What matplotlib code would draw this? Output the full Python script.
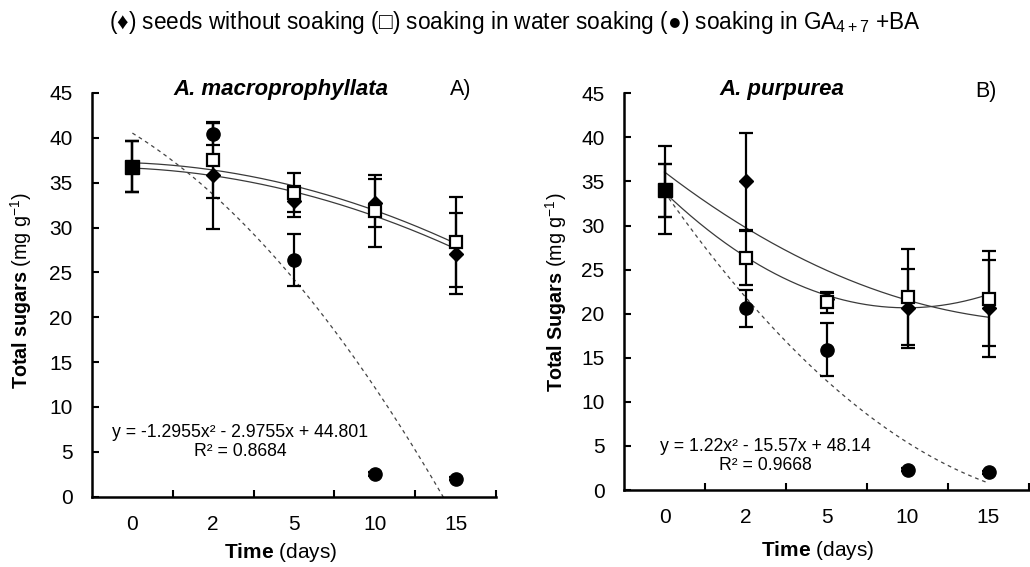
import numpy as np
import matplotlib
matplotlib.use("Agg")
import matplotlib.pyplot as plt

plt.rcParams['font.family'] = ['Liberation Sans', 'DejaVu Sans']
plt.rcParams['mathtext.fontset'] = 'custom'
plt.rcParams['mathtext.rm'] = 'Liberation Sans'
plt.rcParams['mathtext.bf'] = 'Liberation Sans:bold'
plt.rcParams['mathtext.it'] = 'Liberation Sans:italic'

# ---------------- data ----------------
day_labels = ['0', '2', '5', '10', '15']

# A. macroprophyllata
a_nosoak = [36.8, 35.8, 32.9, 32.7, 27.1]
a_nosoak_err = [2.8, 6.0, 1.7, 2.7, 4.5]
a_water = [36.8, 37.5, 33.9, 31.8, 28.4]
a_water_err = [2.8, 4.2, 2.2, 4.0, 5.0]
a_ga = [36.8, 40.4, 26.4, 2.5, 2.0]
a_ga_err = [2.8, 1.2, 2.9, 0.2, 0.2]
a_ga_coef = [-1.2955, -2.9755, 44.801]
a_eq = "y = -1.2955x\u00b2 - 2.9755x + 44.801\nR\u00b2 = 0.8684"

# A. purpurea
b_nosoak = [34.0, 35.0, 21.7, 20.6, 20.6]
b_nosoak_err = [5.0, 5.5, 0.6, 4.5, 5.5]
b_water = [34.0, 26.3, 21.3, 21.9, 21.7]
b_water_err = [3.0, 3.1, 1.2, 5.4, 5.4]
b_ga = [34.0, 20.6, 15.9, 2.3, 2.0]
b_ga_err = [3.0, 2.1, 3.0, 0.2, 0.2]
b_ga_coef = [1.22, -15.57, 48.14]
b_eq = "y = 1.22x\u00b2 - 15.57x + 48.14\nR\u00b2 = 0.9668"

W, H = 1030, 567
fig = plt.figure(figsize=(W / 100, H / 100), dpi=100)

def px(x0, y0, x1, y1):
    return [x0 / W, 1 - y1 / H, (x1 - x0) / W, (y1 - y0) / H]

axA = fig.add_axes(px(92, 93, 496, 496.5))
axB = fig.add_axes(px(624, 93.3, 1029, 490))

TREND_C = '#3a3a3a'
TICK_FS = 15

def draw(ax, nos, nos_e, wat, wat_e, ga, ga_e, ga_coef):
    x = np.arange(1, len(day_labels) + 1)
    xs = np.linspace(1, len(day_labels), 300)
    # polynomial trendlines for the two solid series
    for vals in (nos, wat):
        c = np.polyfit(x, vals, 2)
        ax.plot(xs, np.polyval(c, xs), color=TREND_C, lw=0.9, zorder=2)
    # dashed trend for GA series (given equation)
    ax.plot(xs, np.polyval(ga_coef, xs), color='#444444', lw=0.9,
            ls=(0, (3, 3)), zorder=2)
    ekw = dict(ecolor='black', elinewidth=1.6, capsize=5, capthick=1.6,
               ls='none', zorder=3)
    # error bars
    ax.errorbar(x, nos, yerr=nos_e, fmt='none', **ekw)
    ax.errorbar(x, wat, yerr=wat_e, fmt='none', **ekw)
    ax.errorbar(x, ga, yerr=ga_e, fmt='none', **ekw)
    # markers (from day 2 on)
    ax.plot(x[1:], ga[1:], 'o', color='black', ms=9.5, zorder=4)
    ax.plot(x[1:], nos[1:], 'D', color='black', ms=7, zorder=5)
    ax.plot(x[1:], wat[1:], 's', mfc='white', mec='black', mew=1.6,
            ms=9, zorder=6)
    # shared starting point
    ax.plot(x[:1], wat[:1], 's', color='black', ms=10, zorder=6)

    ax.set_xlim(0.5, len(day_labels) + 0.5)
    ax.set_ylim(0, 45)
    ax.set_yticks(np.arange(0, 46, 5))
    ax.set_xticks(np.arange(1.5, len(day_labels) + 1, 1.0))
    ax.set_xticklabels([])
    ax.set_xticks(x, minor=True)
    ax.set_xticklabels(day_labels, minor=True)
    for s in ('top', 'right'):
        ax.spines[s].set_visible(False)
    for s in ('left', 'bottom'):
        ax.spines[s].set_linewidth(1.8)
    ax.tick_params(axis='both', which='major', direction='in', length=5,
                   width=1.5, labelsize=TICK_FS)
    ax.tick_params(axis='y', pad=14)
    ax.tick_params(axis='x', which='minor', length=0, labelsize=TICK_FS,
                   pad=13)
    ax.patch.set_alpha(0)

draw(axA, a_nosoak, a_nosoak_err, a_water, a_water_err, a_ga, a_ga_err, a_ga_coef)
draw(axB, b_nosoak, b_nosoak_err, b_water, b_water_err, b_ga, b_ga_err, b_ga_coef)

# titles
fig.text(281 / W, 1 - 90 / H, 'A. macroprophyllata', fontsize=16,
         fontweight='bold', fontstyle='italic', ha='center', va='center')
fig.text(461 / W, 1 - 90 / H, 'A)', fontsize=15.5, ha='center', va='center')
fig.text(782 / W, 1 - 90 / H, 'A. purpurea', fontsize=16,
         fontweight='bold', fontstyle='italic', ha='center', va='center')
fig.text(986 / W, 1 - 92 / H, 'B)', fontsize=15.5, ha='center', va='center')

# axis labels
fig.text(281 / W, 1 - 552 / H, r'$\mathbf{Time}$ (days)', fontsize=15,
         ha='center', va='center')
fig.text(818 / W, 1 - 551 / H, r'$\mathbf{Time}$ (days)', fontsize=15,
         ha='center', va='center')
fig.text(21 / W, 1 - 290 / H, r'$\mathbf{Total\ sugars}$ (mg g$^{-1}$)',
         fontsize=14.2, rotation=90, ha='center', va='center')
fig.text(556 / W, 1 - 292 / H, r'$\mathbf{Total\ Sugars}$ (mg g$^{-1}$)',
         fontsize=14.2, rotation=90, ha='center', va='center')

# equations
fig.text(240 / W, 1 - 442 / H, a_eq, fontsize=12.7, ha='center', va='center',
         linespacing=1.1)
fig.text(765 / W, 1 - 456 / H, b_eq, fontsize=12.7, ha='center', va='center',
         linespacing=1.1)

# legend line
fig.text(515 / W, 1 - 22 / H,
         '(\u2666) seeds without soaking (\u25a1) soaking in water soaking '
         '(\u25cf) soaking in GA$_{4+7}$ +BA',
         fontsize=16.3, ha='center', va='center')

fig.savefig('out.png', dpi=100)
